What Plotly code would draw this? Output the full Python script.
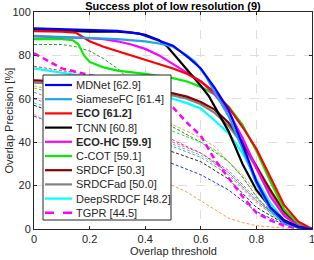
import plotly.graph_objects as go

# ---------------- data ----------------
# labelled trackers: thresholds (t) and success rates in % (v)
mdnet_t = [0, 0.1, 0.2, 0.3, 0.38, 0.45, 0.5, 0.56, 0.6, 0.65, 0.7, 0.75, 0.8, 0.85, 0.9, 0.95, 1]
mdnet_v = [92.5, 92, 91.7, 91.3, 90, 87, 84.5, 78.5, 74, 65, 55, 39, 22, 10, 3.5, 0.8, 0]

siam_t = [0, 0.1, 0.2, 0.3, 0.4, 0.45, 0.5, 0.55, 0.58, 0.62, 0.65, 0.7, 0.75, 0.8, 0.85, 0.9, 0.95, 1]
siam_v = [89, 88.5, 88, 87.5, 86.5, 85.5, 84, 80, 77, 70, 63, 52, 37, 21, 9, 3, 0.6, 0]

eco_t = [0, 0.1, 0.15, 0.17, 0.2, 0.25, 0.3, 0.35, 0.4, 0.45, 0.5, 0.55, 0.6, 0.65, 0.7, 0.75, 0.8, 0.85, 0.9, 0.95, 1]
eco_v = [91.2, 91, 90.5, 89, 86.5, 84, 82, 80, 78, 76, 74, 71.5, 68, 63, 56, 47, 37, 24, 11, 3.5, 0]

tcnn_t = [0, 0.1, 0.2, 0.3, 0.35, 0.4, 0.45, 0.48, 0.5, 0.55, 0.6, 0.63, 0.67, 0.7, 0.75, 0.8, 0.85, 0.9, 0.95, 1]
tcnn_v = [92, 91.5, 91, 91, 90.5, 89.5, 87, 84, 81, 74, 66, 61, 52, 45, 30, 18, 10, 4, 1, 0]

ecohc_t = [0, 0.1, 0.2, 0.25, 0.3, 0.35, 0.4, 0.45, 0.5, 0.55, 0.6, 0.65, 0.7, 0.75, 0.8, 0.85, 0.9, 0.95, 1]
ecohc_v = [88.7, 88.5, 88, 87.5, 86.5, 85, 83, 80, 76, 72, 68, 62, 54, 42, 28, 15, 6, 1.5, 0]

ccot_t = [0, 0.1, 0.14, 0.16, 0.18, 0.2, 0.25, 0.3, 0.4, 0.5, 0.55, 0.6, 0.65, 0.7, 0.75, 0.8, 0.85, 0.9, 0.95, 1]
ccot_v = [87.5, 87.5, 87, 85, 80, 77, 74.5, 73, 71.5, 69.5, 68, 65.5, 62, 56.5, 48, 36, 22, 9, 2.5, 0]

srdcf_t = [0, 0.1, 0.2, 0.3, 0.4, 0.5, 0.55, 0.6, 0.65, 0.7, 0.75, 0.8, 0.85, 0.9, 0.95, 1]
srdcf_v = [68.5, 68, 67, 66, 64.5, 62.5, 61, 58.5, 55, 49, 40, 29, 18, 8, 2, 0]

srdcfad_t = [0, 0.1, 0.2, 0.3, 0.4, 0.5, 0.55, 0.6, 0.65, 0.7, 0.75, 0.8, 0.85, 0.9, 0.95, 1]
srdcfad_v = [67.5, 67, 66, 65, 63.5, 61.5, 60, 57.5, 53.5, 47.5, 39, 28, 17, 7, 1.5, 0]

deep_t = [0, 0.1, 0.2, 0.3, 0.4, 0.5, 0.55, 0.6, 0.65, 0.7, 0.75, 0.8, 0.85, 0.9, 0.95, 1]
deep_v = [74, 72, 70, 67.5, 64, 60, 58, 55.5, 50, 44, 35, 23, 12, 4, 1, 0]

tgpr_t = [0, 0.05, 0.1, 0.15, 0.2, 0.25, 0.3, 0.4, 0.45, 0.5, 0.55, 0.6, 0.65, 0.7, 0.75, 0.8, 0.85, 0.9, 0.95, 1]
tgpr_v = [81, 77.5, 74, 72.5, 71, 69.5, 67.5, 63, 60, 56, 49, 43, 32, 23.5, 15, 7.5, 4, 1.5, 0.4, 0]

names = ["MDNet", "SiameseFC", "ECO", "TCNN", "ECO-HC", "C-COT", "SRDCF", "SRDCFad", "DeepSRDCF", "TGPR"]
scores = [62.9, 61.4, 61.2, 60.8, 59.9, 59.1, 50.3, 50.0, 48.2, 44.5]

# unlabelled trackers (thin dashed curves)
dkgreen_t = [0, 0.1, 0.15, 0.2, 0.25, 0.3, 0.35, 0.4, 0.5, 0.6, 0.7, 0.75, 0.8, 0.85, 0.9, 0.95, 1]
dkgreen_v = [85, 85, 84, 82, 78.5, 74, 68, 60, 47, 40, 31, 24, 15, 8, 3, 1, 0]
orange_t = [0, 0.2, 0.4, 0.5, 0.6, 0.65, 0.7, 0.75, 0.8, 0.85, 0.9, 0.95, 1]
orange_v = [66, 60, 53, 48, 42, 38, 31, 25, 17, 10, 4, 1, 0]
lime_t = [0, 0.2, 0.4, 0.5, 0.6, 0.65, 0.7, 0.75, 0.8, 0.85, 0.9, 0.95, 1]
lime_v = [65, 58, 50, 45, 40, 36.5, 31, 24, 15, 7, 2.5, 0.5, 0]
red_t = [0, 0.1, 0.15, 0.2, 0.3, 0.4, 0.5, 0.6, 0.7, 0.8, 0.9, 1]
red_v = [75, 73, 72, 69, 62, 52, 41, 35, 26, 13, 3.5, 0]
mid_t = [0, 0.2, 0.4, 0.5, 0.6, 0.7, 0.8, 0.9, 1]
gray_v = [63, 54, 43, 38, 33, 25, 12, 3, 0]
cyan_v = [58, 51, 43, 39, 34, 26, 13, 3, 0]
mag_v = [60, 52, 44, 40, 35, 27, 14, 4, 0]
black_v = [57, 48, 39, 35.5, 31, 23, 10, 2.5, 0]
blue_v = [52, 43, 34, 30, 25, 18, 8, 2, 0]
orlo_t = [0, 0.1, 0.2, 0.3, 0.4, 0.45, 0.5, 0.55, 0.6, 0.65, 0.7, 0.75, 0.8, 0.9, 1]
orlo_v = [53, 45, 38, 31, 25, 22, 20, 17, 13, 9, 5, 3, 1.5, 0.5, 0]

x_ticks = [0, 0.2, 0.4, 0.6, 0.8, 1]
x_ticklabels = ["0", "0.2", "0.4", "0.6", "0.8", "1"]
y_ticks = [0, 20, 40, 60, 80, 100]

# ---------------- styling ----------------
FONT = "Liberation Sans, Arial, sans-serif"
W, H = 314, 260
ML, MR, MT, MB = 34, 2, 12, 31

fig = go.Figure()

others = [
    (dkgreen_t, dkgreen_v, "#2f8f2f"),
    (orange_t, orange_v, "#ff9a50"),
    (lime_t, lime_v, "#33d633"),
    (red_t, red_v, "#ff2a2a"),
    (mid_t, gray_v, "#8c8c8c"),
    (mid_t, cyan_v, "#22dcdc"),
    (mid_t, mag_v, "#e84ce8"),
    (mid_t, black_v, "#222222"),
    (mid_t, blue_v, "#2233ee"),
    (orlo_t, orlo_v, "#ff9a50"),
]
for t, v, c in others:
    fig.add_trace(go.Scatter(x=t, y=v, mode="lines", showlegend=False, hoverinfo="skip",
                             line=dict(color=c, width=1, dash="3px,2px")))

main = [
    (mdnet_t, mdnet_v, "#0000ff", 2.2, "solid", False),
    (siam_t, siam_v, "#1ea5e6", 2.2, "solid", False),
    (eco_t, eco_v, "#ff0000", 2.2, "solid", True),
    (tcnn_t, tcnn_v, "#000000", 2.2, "solid", False),
    (ecohc_t, ecohc_v, "#ff00ff", 2.2, "solid", True),
    (ccot_t, ccot_v, "#00ee00", 2.2, "solid", False),
    (srdcf_t, srdcf_v, "#880000", 2.2, "solid", False),
    (srdcfad_t, srdcfad_v, "#808080", 2.2, "solid", False),
    (deep_t, deep_v, "#00ffff", 2.2, "solid", False),
    (tgpr_t, tgpr_v, "#ff00ff", 2.5, "6px,4px", False),
]
# draw lowest-ranked first so MDNet ends on top
for (t, v, c, w, d, b), n in reversed(list(zip(main, names))):
    fig.add_trace(go.Scatter(x=t, y=v, mode="lines", name=n, showlegend=False,
                             line=dict(color=c, width=w, dash=d)))

PW, PH = W - ML - MR, H - MT - MB


def px(xp):
    return (xp - ML) / PW


def py(yp):
    return (H - MB - yp) / PH


# legend box (MATLAB style, inside the axes)
shapes = [dict(type="rect", xref="paper", yref="paper", x0=px(43), x1=px(171), y0=py(220), y1=py(75),
               fillcolor="white", line=dict(color="#262626", width=1), layer="above")]
annotations = []
row0, drow = 85, 14.2
for i, ((t, v, c, w, d, b), n, s) in enumerate(zip(main, names, scores)):
    yr = row0 + i * drow
    shapes.append(dict(type="line", xref="paper", yref="paper", x0=px(45), x1=px(72), y0=py(yr), y1=py(yr),
                       line=dict(color=c, width=w, dash=("dash" if d != "solid" else "solid")), layer="above"))
    label = f"{n} [{s:.1f}]"
    if b:
        label = f"<b>{label}</b>"
    annotations.append(dict(text=label, xref="paper", yref="paper", x=px(73.5), y=py(yr),
                            xanchor="left", yanchor="middle", showarrow=False,
                            font=dict(family=FONT, size=11, color="#262626")))

# axis titles placed as text in the margins
annotations.append(dict(text="Overlap threshold", xref="paper", yref="paper", x=0.5, y=py(251),
                        xanchor="center", yanchor="middle", showarrow=False,
                        font=dict(family=FONT, size=11, color="#262626")))
annotations.append(dict(text="Overlap Precision [%]", xref="paper", yref="paper", x=px(8), y=0.5,
                        xanchor="center", yanchor="middle", textangle=-90, showarrow=False,
                        font=dict(family=FONT, size=11, color="#262626")))

axis_common = dict(showline=True, linecolor="#262626", linewidth=1, mirror="ticks",
                   ticks="inside", ticklen=3, tickcolor="#262626", automargin=False,
                   ticklabeloverflow="allow",
                   showgrid=True, gridcolor="#dedede", griddash="dash", gridwidth=1,
                   zeroline=False, tickfont=dict(family=FONT, size=11, color="#262626"))

fig.update_layout(
    width=W, height=H,
    margin=dict(l=ML, r=MR, t=MT, b=MB, autoexpand=False),
    paper_bgcolor="white", plot_bgcolor="white",
    font=dict(family=FONT, size=11, color="#262626"),
    title=dict(text="<b>Success plot of low resolution (9)</b>", x=0.5, xref="paper",
               y=1 - 6 / H, yref="container", yanchor="middle",
               font=dict(family=FONT, size=11, color="#000000")),
    xaxis=dict(range=[0, 1], tickvals=x_ticks, ticktext=x_ticklabels, **axis_common),
    yaxis=dict(range=[0, 100], tickvals=y_ticks, **axis_common),
    shapes=shapes,
    annotations=annotations,
    showlegend=False,
    hovermode=False,
)

# remove the browser's default page margin so the 314x260 figure fills the window
fig.write_html("out.html", config={"displayModeBar": False, "staticPlot": True},
               post_script="document.body.style.margin='0';document.body.style.overflow='hidden';")
